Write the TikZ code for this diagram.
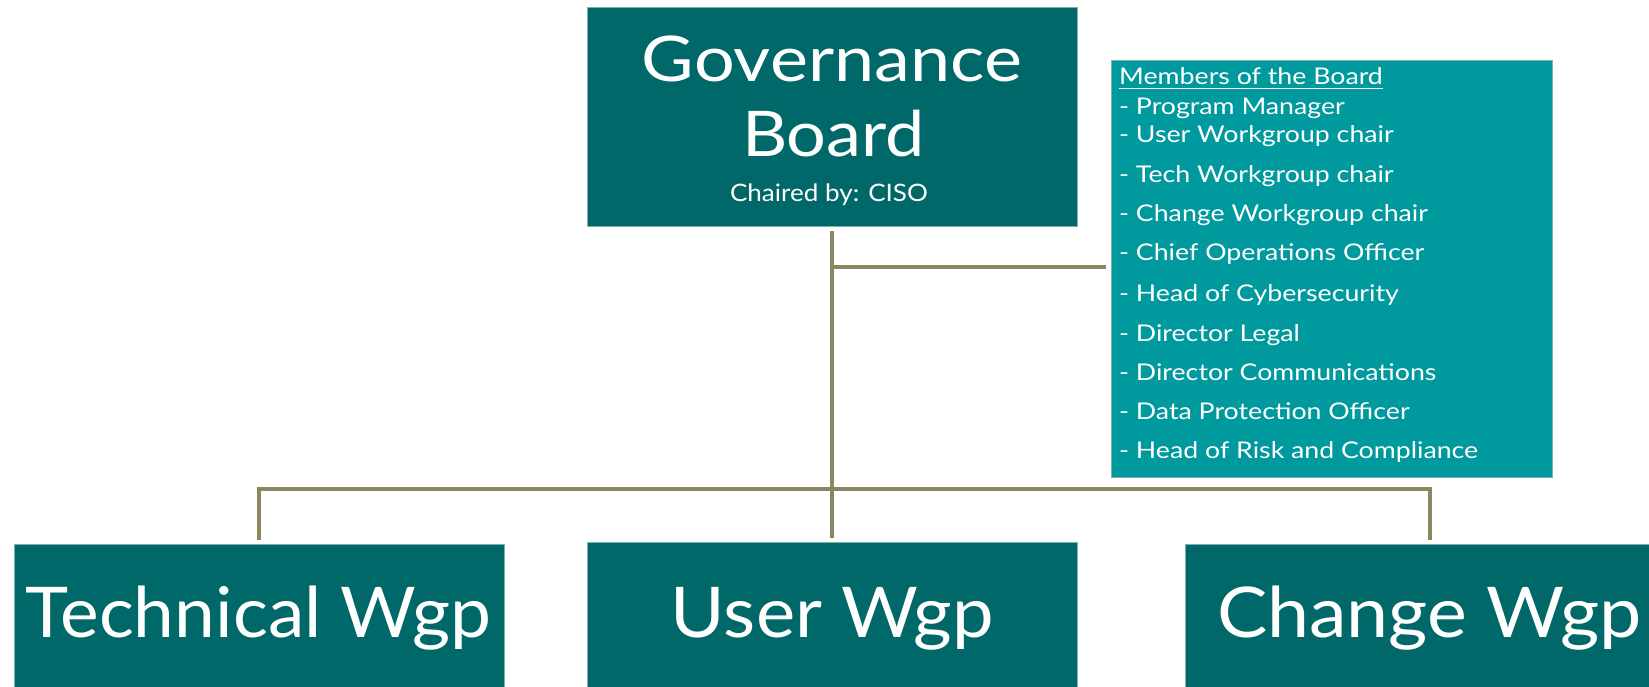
\documentclass[tikz,border=0pt]{standalone}
\usepackage{fontspec}
\setmainfont{Lato}
\usepackage{graphicx}
\definecolor{darkteal}{RGB}{0,104,104}
\definecolor{lightteal}{RGB}{0,153,158}
\definecolor{connol}{RGB}{140,133,98}
\definecolor{edgeteal}{RGB}{120,178,178}
\newlength\reflen
\newcommand\myul[1]{\setbox0\hbox{#1}\rlap{\rule[-4pt]{\wd0}{1.4pt}}\box0}
\newcommand\fitw[2]{\resizebox{#1pt}{\height}{#2}}
\begin{document}
\settowidth{\reflen}{\fontsize{23}{23}\selectfont - Head of Risk and Compliance}%
\pgfmathsetmacro\lsx{359/\reflen}%
\begin{tikzpicture}[x=1pt,y=-1pt,
  box/.style={rectangle, fill=darkteal, draw=edgeteal, line width=0.8pt, inner sep=0pt, anchor=north west},
  memo/.style={rectangle, fill=lightteal, draw=edgeteal, line width=0.8pt, inner sep=0pt, anchor=north west},
  conn/.style={draw=connol, line width=4pt},
  wtxt/.style={text=white, inner sep=0pt},
  bigtxt/.style={wtxt, anchor=base, font=\fontsize{70}{70}\selectfont},
  govtxt/.style={wtxt, anchor=base, font=\fontsize{63}{63}\selectfont},
  subtxt/.style={wtxt, anchor=base, font=\fontsize{24}{24}\selectfont},
  listtxt/.style={wtxt, anchor=base west, font=\fontsize{23}{23}\selectfont}]
\useasboundingbox (0,0) rectangle (1649,687);
\clip (0,0) rectangle (1649,687);
\fill[white] (0,0) rectangle (1649,687);

% boxes
\node[box, minimum width=490pt, minimum height=219pt] (gov) at (587,7) {};
\node[memo, minimum width=441pt, minimum height=417pt] (members) at (1111,60) {};
\node[box, minimum width=490pt, minimum height=170pt] (tech) at (14,544) {};
\node[box, minimum width=490pt, minimum height=170pt] (user) at (587,542) {};
\node[box, minimum width=490pt, minimum height=170pt] (change) at (1185,544) {};

% texts
\node[govtxt] (govt1) at (832,82) {\fitw{380}{Governance}};
\node[govtxt] (govt2) at (833.5,157) {\fitw{183}{Board}};
\node[subtxt] (govt3) at (829,202) {\fitw{198}{Chaired by: CISO}};

\node[bigtxt] (techt) at (258.5,637) {\fitw{465}{Technical Wgp}};
\node[bigtxt] (usert) at (832.5,637) {\fitw{323}{User Wgp}};
\node[bigtxt] (changet) at (1429.5,637) {\fitw{425}{Change Wgp}};

\node[listtxt] (m0) at (1119,85) {\scalebox{\lsx}[1]{\myul{Members of the Board}}};
\node[listtxt] (m1) at (1119,115) {\scalebox{\lsx}[1]{- Program Manager}};
\node[listtxt] (m2) at (1119,143) {\scalebox{\lsx}[1]{- User Workgroup chair}};
\node[listtxt] (m3) at (1119,183) {\scalebox{\lsx}[1]{- Tech Workgroup chair}};
\node[listtxt] (m4) at (1119,222) {\scalebox{\lsx}[1]{- Change Workgroup chair}};
\node[listtxt] (m5) at (1119,261) {\scalebox{\lsx}[1]{- Chief Operations Officer}};
\node[listtxt] (m6) at (1119,301) {\scalebox{\lsx}[1]{- Head of Cybersecurity}};
\node[listtxt] (m7) at (1119,341) {\scalebox{\lsx}[1]{- Director Legal}};
\node[listtxt] (m8) at (1119,380) {\scalebox{\lsx}[1]{- Director Communications}};
\node[listtxt] (m9) at (1119,419) {\scalebox{\lsx}[1]{- Data Protection Officer}};
\node[listtxt] (m10) at (1119,458) {\scalebox{\lsx}[1]{- Head of Risk and Compliance}};

% connectors
\coordinate (bj) at (832,267);
\coordinate (bus) at (832,489);
\draw[conn, shorten <=4pt, shorten >=4pt] (gov.south) -- (user.north);
\draw[conn, shorten >=5pt] (bj) -- (bj -| members.west);
\draw[conn, shorten >=4pt] (bus) -| (tech.north);
\draw[conn, shorten >=4pt] (bus) -| (change.north);
\end{tikzpicture}
\end{document}
